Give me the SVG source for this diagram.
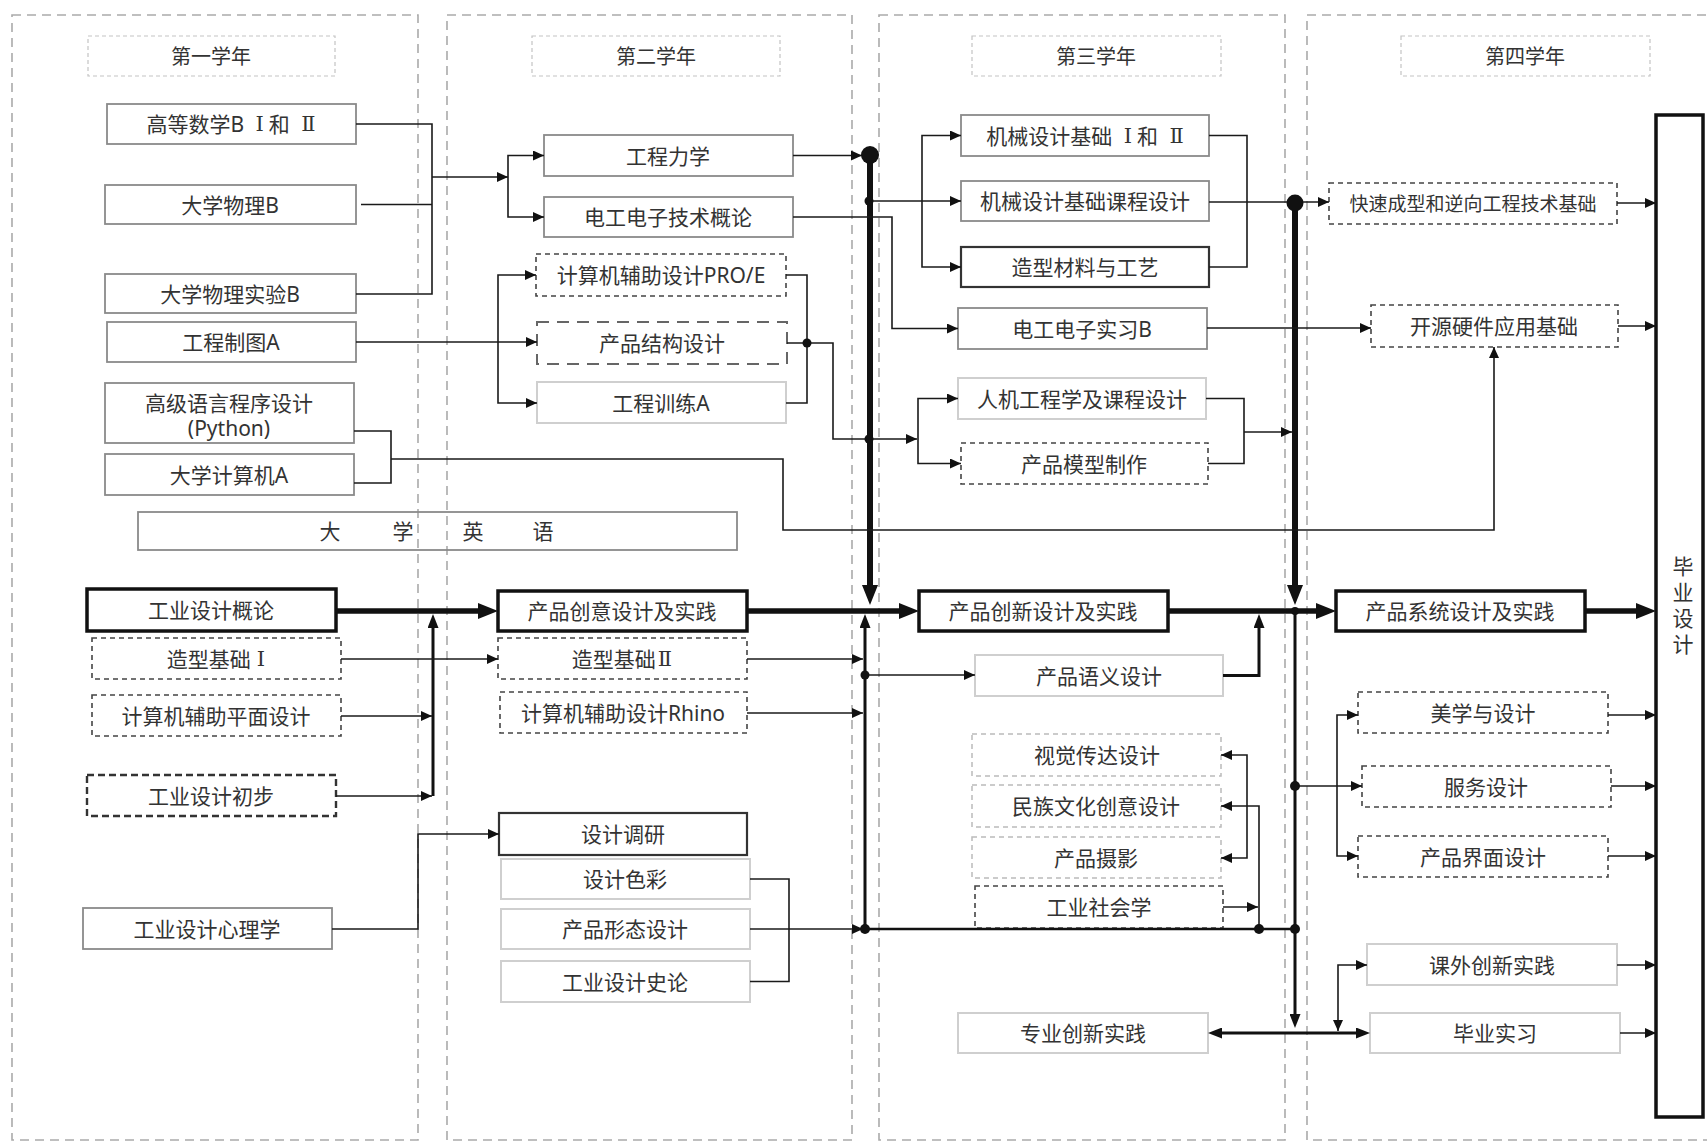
<svg xmlns="http://www.w3.org/2000/svg" width="1707" height="1142" viewBox="0 0 1707 1142">
<style>
.t{font-family:"Noto Sans","Noto Sans CJK SC",sans-serif;font-size:21px;fill:#333;text-anchor:middle;dominant-baseline:central}
.r{font-family:"DejaVu Serif","Noto Sans CJK SC",serif}
.b{fill:#fff;stroke:#8a8a8a;stroke-width:1.8}
.bl{fill:#fff;stroke:#cfcfcf;stroke-width:2}
.bd{fill:#fff;stroke:#333;stroke-width:2.2}
.bk{fill:#fff;stroke:#111;stroke-width:3.5}
.dd{fill:#fff;stroke:#444;stroke-width:1.6;stroke-dasharray:5 4}
.dt{fill:#fff;stroke:#333;stroke-width:2.4;stroke-dasharray:7 4}
.dg{fill:#fff;stroke:#666;stroke-width:2;stroke-dasharray:12 8}
.dl{fill:#fff;stroke:#bbb;stroke-width:1.5;stroke-dasharray:5 4}
.hd{fill:#fff;stroke:#c4c4c4;stroke-width:1.2;stroke-dasharray:4 3}
.col{fill:none;stroke:#aaa;stroke-width:1.6;stroke-dasharray:9 6}
.c{fill:none;stroke:#1a1a1a;stroke-width:1.6}
.cm{fill:none;stroke:#111;stroke-width:3}
.ct{fill:none;stroke:#111;stroke-width:5.5}
.dot{fill:#111}
.ma{marker-end:url(#a)}
.mab{marker-start:url(#a);marker-end:url(#a)}
.mm{marker-end:url(#m)}
.mmb{marker-start:url(#m);marker-end:url(#m)}
.mA{marker-end:url(#A)}
</style>
<defs>
<marker id="a" viewBox="0 0 11 10" refX="11" refY="5" markerWidth="11" markerHeight="10" markerUnits="userSpaceOnUse" orient="auto-start-reverse"><path d="M0,0L11,5L0,10z" fill="#111"/></marker>
<marker id="m" viewBox="0 0 14 11" refX="8" refY="5.5" markerWidth="14" markerHeight="11" markerUnits="userSpaceOnUse" orient="auto-start-reverse"><path d="M0,0L14,5.5L0,11z" fill="#111"/></marker>
<marker id="A" viewBox="0 0 20 16" refX="12" refY="8" markerWidth="20" markerHeight="16" markerUnits="userSpaceOnUse" orient="auto-start-reverse"><path d="M0,0L20,8L0,16z" fill="#111"/></marker>
</defs>
<rect width="1707" height="1142" fill="#fff"/>
<g id="columns">
<rect class="col" x="12" y="15" width="406" height="1125"/>
<rect class="col" x="447" y="15" width="405" height="1125"/>
<rect class="col" x="879" y="15" width="406" height="1125"/>
<rect class="col" x="1307" y="15" width="420" height="1125"/>
</g>
<g id="year1">
<g id="y1-hdr"><rect class="hd" x="88" y="36" width="247" height="40"/><text class="t" x="211" y="56" style="font-size:20px">第一学年</text></g>
<g id="gdsx"><rect class="b" x="107" y="104" width="249" height="40"/><text class="t" x="231" y="124">高等数学B <tspan class="r" dx="6">Ⅰ</tspan><tspan dx="5">和</tspan> <tspan class="r" dx="6">Ⅱ</tspan></text></g>
<g id="dxwl"><rect class="b" x="105" y="185" width="251" height="39"/><text class="t" x="230" y="205">大学物理B</text></g>
<g id="dxwlsy"><rect class="b" x="105" y="274" width="251" height="39"/><text class="t" x="230" y="294">大学物理实验B</text></g>
<g id="gczt"><rect class="b" x="107" y="322" width="249" height="40"/><text class="t" x="231" y="342">工程制图A</text></g>
<g id="gjyy"><rect class="b" x="105" y="383" width="249" height="60"/><text class="t" x="229" y="403">高级语言程序设计</text><text class="t" x="229" y="428">(Python)</text></g>
<g id="dxjsj"><rect class="b" x="105" y="454" width="249" height="41"/><text class="t" x="229" y="475">大学计算机A</text></g>
<g id="dxyy"><rect class="b" style="fill:none" x="138" y="512" width="599" height="38"/><text class="t" y="531"><tspan x="330">大</tspan><tspan x="403">学</tspan><tspan x="473">英</tspan><tspan x="543">语</tspan></text></g>
<g id="gysjgl"><rect class="bk" x="87" y="589" width="249" height="42"/><text class="t" x="211" y="610">工业设计概论</text></g>
<g id="zxjc1"><rect class="dd" x="92" y="638" width="249" height="41"/><text class="t" x="216" y="659">造型基础<tspan class="r" dx="6">Ⅰ</tspan></text></g>
<g id="jsjpm"><rect class="dd" x="92" y="695" width="249" height="41"/><text class="t" x="216" y="716">计算机辅助平面设计</text></g>
<g id="gysjcb"><rect class="dt" x="87" y="775" width="249" height="41"/><text class="t" x="211" y="796">工业设计初步</text></g>
<g id="gysjxl"><rect class="b" x="83" y="908" width="249" height="41"/><text class="t" x="207" y="929">工业设计心理学</text></g>
</g>
<g id="year2">
<g id="y2-hdr"><rect class="hd" x="532" y="36" width="248" height="40"/><text class="t" x="656" y="56" style="font-size:20px">第二学年</text></g>
<g id="gclx"><rect class="b" x="544" y="135" width="249" height="41"/><text class="t" x="668" y="156">工程力学</text></g>
<g id="dgdz"><rect class="b" x="544" y="197" width="249" height="40"/><text class="t" x="668" y="217">电工电子技术概论</text></g>
<g id="proe"><rect class="dd" x="536" y="254" width="250" height="42"/><text class="t" x="661" y="275">计算机辅助设计PRO/E</text></g>
<g id="cpjg"><rect class="dg" x="537" y="322" width="250" height="42"/><text class="t" x="662" y="343">产品结构设计</text></g>
<g id="gcxl"><rect class="bl" x="537" y="382" width="249" height="41"/><text class="t" x="661" y="403">工程训练A</text></g>
<g id="cpcy"><rect class="bk" x="498" y="591" width="249" height="40"/><text class="t" x="622" y="611">产品创意设计及实践</text></g>
<g id="zxjc2"><rect class="dd" x="498" y="638" width="249" height="41"/><text class="t" x="622" y="659">造型基础<tspan class="r" dx="2">Ⅱ</tspan></text></g>
<g id="rhino"><rect class="dd" x="500" y="692" width="247" height="41"/><text class="t" x="623" y="713">计算机辅助设计Rhino</text></g>
<g id="sjdy"><rect class="bd" x="499" y="813" width="248" height="42"/><text class="t" x="623" y="834">设计调研</text></g>
<g id="sjsc"><rect class="bl" x="501" y="859" width="249" height="40"/><text class="t" x="625" y="879">设计色彩</text></g>
<g id="cpxt"><rect class="bl" x="501" y="909" width="249" height="40"/><text class="t" x="625" y="929">产品形态设计</text></g>
<g id="gysjsl"><rect class="bl" x="501" y="961" width="249" height="41"/><text class="t" x="625" y="982">工业设计史论</text></g>
</g>
<g id="year3">
<g id="y3-hdr"><rect class="hd" x="972" y="36" width="249" height="40"/><text class="t" x="1096" y="56" style="font-size:20px">第三学年</text></g>
<g id="jxsj12"><rect class="b" x="961" y="115" width="248" height="41"/><text class="t" x="1085" y="136">机械设计基础 <tspan class="r" dx="6">Ⅰ</tspan><tspan dx="5">和</tspan> <tspan class="r" dx="6">Ⅱ</tspan></text></g>
<g id="jxkc"><rect class="b" x="961" y="181" width="248" height="40"/><text class="t" x="1085" y="201">机械设计基础课程设计</text></g>
<g id="zxcl"><rect class="bd" x="961" y="247" width="248" height="40"/><text class="t" x="1085" y="267">造型材料与工艺</text></g>
<g id="dgsx"><rect class="b" x="958" y="308" width="249" height="41"/><text class="t" x="1082" y="329">电工电子实习B</text></g>
<g id="rjgc"><rect class="bl" x="958" y="378" width="248" height="41"/><text class="t" x="1082" y="399">人机工程学及课程设计</text></g>
<g id="cpmx"><rect class="dd" x="961" y="443" width="247" height="41"/><text class="t" x="1084" y="464">产品模型制作</text></g>
<g id="cpcx"><rect class="bk" x="919" y="591" width="249" height="40"/><text class="t" x="1043" y="611">产品创新设计及实践</text></g>
<g id="cpyy"><rect class="bl" x="975" y="655" width="248" height="41"/><text class="t" x="1099" y="676">产品语义设计</text></g>
<g id="sjcd"><rect class="dl" x="972" y="734" width="249" height="42"/><text class="t" x="1097" y="755">视觉传达设计</text></g>
<g id="mzwh"><rect class="dl" x="972" y="785" width="249" height="42"/><text class="t" x="1096" y="806">民族文化创意设计</text></g>
<g id="cpsy"><rect class="dl" x="972" y="837" width="249" height="41"/><text class="t" x="1096" y="858">产品摄影</text></g>
<g id="gysh"><rect class="dd" x="975" y="886" width="248" height="42"/><text class="t" x="1099" y="907">工业社会学</text></g>
<g id="zycx"><rect class="bl" x="958" y="1013" width="250" height="40"/><text class="t" x="1083" y="1033">专业创新实践</text></g>
</g>
<g id="year4">
<g id="y4-hdr"><rect class="hd" x="1401" y="36" width="249" height="40"/><text class="t" x="1525" y="56" style="font-size:20px">第四学年</text></g>
<g id="kscx"><rect class="dd" x="1329" y="183" width="288" height="41"/><text class="t" x="1473" y="204" style="font-size:19px">快速成型和逆向工程技术基础</text></g>
<g id="kyyj"><rect class="dd" x="1371" y="305" width="247" height="42"/><text class="t" x="1494" y="326">开源硬件应用基础</text></g>
<g id="cpxt4"><rect class="bk" x="1336" y="591" width="249" height="40"/><text class="t" x="1460" y="611">产品系统设计及实践</text></g>
<g id="mxsj"><rect class="dd" x="1358" y="692" width="250" height="41"/><text class="t" x="1483" y="713">美学与设计</text></g>
<g id="fwsj"><rect class="dd" x="1362" y="766" width="249" height="41"/><text class="t" x="1486" y="787">服务设计</text></g>
<g id="cpjm"><rect class="dd" x="1358" y="836" width="250" height="41"/><text class="t" x="1483" y="857">产品界面设计</text></g>
<g id="kwcx"><rect class="bl" x="1367" y="944" width="250" height="41"/><text class="t" x="1492" y="965">课外创新实践</text></g>
<g id="bysx"><rect class="bl" x="1370" y="1013" width="250" height="40"/><text class="t" x="1495" y="1033">毕业实习</text></g>
<g id="bysj"><rect class="bk" x="1656" y="115" width="47" height="1002"/><text class="t" style="font-size:21px"><tspan x="1683" y="566">毕</tspan><tspan x="1683" y="592">业</tspan><tspan x="1683" y="618">设</tspan><tspan x="1683" y="644">计</tspan></text></g>
</g>
<g id="connectors">
<path class="c" d="M356,124H432V294H356"/>
<path class="c" d="M361,204.5H432"/>
<path class="c ma" d="M432,177H508"/>
<path class="c mab" d="M544,155.5H508V217H544"/>
<path class="c ma" d="M356,342H537"/>
<path class="c mab" d="M536,275H498V403H537"/>
<path class="c" d="M786,275H807V403H786"/>
<path class="c ma" d="M787,343H833V439H917"/>
<path class="c mab" d="M958,398.5H918V463.5H961"/>
<path class="c ma" d="M793,155.5H862"/>
<path class="ct mA" d="M870,155V597" style="stroke-width:6"/>
<path class="c ma" d="M869,201H961"/>
<path class="c mab" d="M961,135.5H922V267H961"/>
<path class="c ma" d="M793,217H892V328.5H958"/>
<path class="c" d="M1209,135.5H1247V267H1209"/>
<path class="c ma" d="M1209,202H1329"/>
<path class="ct mA" d="M1295,203V597" style="stroke-width:6"/>
<path class="cm mm" d="M1295,611V1022"/>
<path class="c ma" d="M1207,328H1371"/>
<path class="c" d="M1206,398.5H1244V463.5H1208"/>
<path class="c ma" d="M1244,432H1292"/>
<path class="c" d="M354,431H391V483H354"/>
<path class="c ma" d="M391,459H783V530H1494V347"/>
<path class="ct mA" d="M336,611H490"/>
<path class="ct mA" d="M747,611H911"/>
<path class="ct mA" d="M1168,611H1328"/>
<path class="ct mA" d="M1585,611H1648"/>
<path class="cm mm" d="M433,796V620"/>
<path class="c ma" d="M341,659H498"/>
<path class="c ma" d="M341,716H432"/>
<path class="c ma" d="M336,796H432"/>
<path class="c ma" d="M332,929H418V834H499"/>
<path class="cm mm" d="M865,929V620"/>
<path class="c ma" d="M747,659H863"/>
<path class="c ma" d="M747,713H863"/>
<path class="c ma" d="M865,675H975"/>
<path class="c ma" d="M750,929H863"/>
<path class="c" d="M750,879H789V981.5H750"/>
<path class="cm" d="M865,929H1295" style="stroke-width:2.5"/>
<path class="cm mm" d="M1223,675.5H1259V620"/>
<path class="c ma" d="M1259,929V806H1221"/>
<path class="c mab" d="M1221,755H1247V858H1221"/>
<path class="c ma" d="M1223,907H1258"/>
<path class="c ma" d="M1295,786H1362"/>
<path class="c mab" d="M1358,715H1337V856H1358"/>
<path class="c ma" d="M1608,715H1656"/>
<path class="c ma" d="M1611,786H1656"/>
<path class="c ma" d="M1608,856H1656"/>
<path class="c ma" d="M1617,203H1656"/>
<path class="c ma" d="M1618,326H1656"/>
<path class="c ma" d="M1617,965H1656"/>
<path class="c ma" d="M1620,1033H1656"/>
<path class="cm mmb" d="M1214,1033H1364"/>
<path class="c mab" d="M1367,965H1338V1031"/>
<circle class="dot" cx="870" cy="155" r="9"/>
<circle class="dot" cx="1295" cy="203" r="8.5"/>
<circle class="dot" cx="869" cy="201" r="4.5"/>
<circle class="dot" cx="807" cy="343" r="4.5"/>
<circle class="dot" cx="869" cy="439" r="4.5"/>
<circle class="dot" cx="865" cy="675" r="4.5"/>
<circle class="dot" cx="865" cy="929" r="5"/>
<circle class="dot" cx="1259" cy="929" r="5"/>
<circle class="dot" cx="1295" cy="929" r="5"/>
<circle class="dot" cx="1295" cy="786" r="5"/>
<circle class="dot" cx="1295" cy="611" r="4"/>
</g>
</svg>
